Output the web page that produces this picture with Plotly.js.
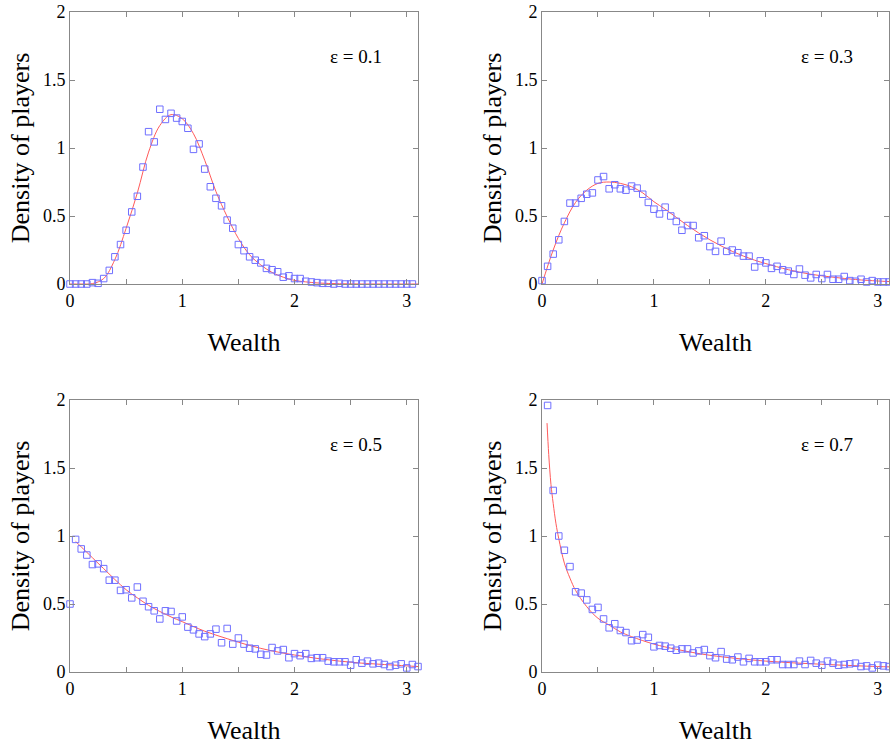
<!DOCTYPE html>
<html>
<head>
<meta charset="utf-8">
<script src="https://cdn.plot.ly/plotly-3.0.1.min.js"></script>
<style>html,body{margin:0;padding:0;background:#fff;}#plot{width:890px;height:746px;}</style>
</head>
<body>
<div id="plot"></div>
<script>
// ---- Data ----
const epsLabels = ["ε = 0.1", "ε = 0.3", "ε = 0.5", "ε = 0.7"];

// simulation points (x step 0.05)
const simX1 = [0,0.05,0.1,0.15,0.2,0.25,0.3,0.35,0.4,0.45,0.5,0.55,0.6,0.65,0.7,0.75,0.8,0.85,0.9,0.95,1.0,1.05,1.1,1.15,1.2,1.25,1.3,1.35,1.4,1.45,1.5,1.55,1.6,1.65,1.7,1.75,1.8,1.85,1.9,1.95,2.0,2.05,2.1,2.15,2.2,2.25,2.3,2.35,2.4,2.45,2.5,2.55,2.6,2.65,2.7,2.75,2.8,2.85,2.9,2.95,3.0,3.05];
const simY1 = [0,0,0,0,0.01,0.005,0.04,0.10,0.20,0.29,0.395,0.53,0.645,0.86,1.12,1.045,1.285,1.21,1.255,1.22,1.195,1.145,0.99,1.03,0.845,0.715,0.63,0.575,0.47,0.41,0.29,0.245,0.20,0.175,0.155,0.115,0.105,0.09,0.05,0.06,0.04,0.04,0.02,0.015,0.01,0.005,0.005,0,0.005,0,0,0,0,0,0,0,0,0,0,0,0,0];

const simX2 = [0,0.05,0.1,0.15,0.2,0.25,0.3,0.35,0.4,0.45,0.5,0.55,0.6,0.65,0.7,0.75,0.8,0.85,0.9,0.95,1.0,1.05,1.1,1.15,1.2,1.25,1.3,1.35,1.4,1.45,1.5,1.55,1.6,1.65,1.7,1.75,1.8,1.85,1.9,1.95,2.0,2.05,2.1,2.15,2.2,2.25,2.3,2.35,2.4,2.45,2.5,2.55,2.6,2.65,2.7,2.75,2.8,2.85,2.9,2.95,3.0,3.05,3.1];
const simY2 = [0.025,0.13,0.22,0.325,0.46,0.595,0.595,0.63,0.66,0.67,0.765,0.79,0.70,0.73,0.70,0.69,0.72,0.705,0.66,0.60,0.55,0.515,0.565,0.50,0.46,0.395,0.43,0.43,0.34,0.355,0.275,0.24,0.315,0.24,0.25,0.23,0.205,0.205,0.125,0.17,0.155,0.115,0.13,0.105,0.095,0.07,0.11,0.065,0.045,0.07,0.04,0.07,0.035,0.035,0.055,0.025,0.02,0.035,0.015,0.025,0.015,0.015,0.015];

const simX3 = [0,0.05,0.1,0.15,0.2,0.25,0.3,0.35,0.4,0.45,0.5,0.55,0.6,0.65,0.7,0.75,0.8,0.85,0.9,0.95,1.0,1.05,1.1,1.15,1.2,1.25,1.3,1.35,1.4,1.45,1.5,1.55,1.6,1.65,1.7,1.75,1.8,1.85,1.9,1.95,2.0,2.05,2.1,2.15,2.2,2.25,2.3,2.35,2.4,2.45,2.5,2.55,2.6,2.65,2.7,2.75,2.8,2.85,2.9,2.95,3.0,3.05,3.1];
const simY3 = [0.50,0.975,0.905,0.86,0.79,0.795,0.76,0.675,0.675,0.60,0.605,0.545,0.625,0.52,0.48,0.45,0.39,0.45,0.445,0.375,0.405,0.33,0.31,0.28,0.26,0.28,0.315,0.215,0.32,0.205,0.25,0.205,0.175,0.17,0.13,0.125,0.18,0.155,0.165,0.105,0.135,0.12,0.135,0.10,0.105,0.105,0.08,0.075,0.075,0.075,0.05,0.09,0.065,0.08,0.06,0.065,0.055,0.04,0.05,0.06,0.03,0.055,0.04];

const simX4 = [0.05,0.1,0.15,0.2,0.25,0.3,0.35,0.4,0.45,0.5,0.55,0.6,0.65,0.7,0.75,0.8,0.85,0.9,0.95,1.0,1.05,1.1,1.15,1.2,1.25,1.3,1.35,1.4,1.45,1.5,1.55,1.6,1.65,1.7,1.75,1.8,1.85,1.9,1.95,2.0,2.05,2.1,2.15,2.2,2.25,2.3,2.35,2.4,2.45,2.5,2.55,2.6,2.65,2.7,2.75,2.8,2.85,2.9,2.95,3.0,3.05,3.1];
const simY4 = [1.96,1.335,1.0,0.895,0.775,0.59,0.58,0.53,0.46,0.475,0.39,0.325,0.355,0.305,0.29,0.23,0.235,0.275,0.255,0.185,0.195,0.19,0.175,0.16,0.17,0.17,0.14,0.155,0.165,0.12,0.105,0.15,0.095,0.09,0.11,0.075,0.10,0.075,0.075,0.075,0.09,0.09,0.055,0.055,0.055,0.08,0.055,0.085,0.065,0.05,0.08,0.065,0.05,0.055,0.06,0.065,0.04,0.045,0.03,0.05,0.045,0.04];

// theory curves
const thX1 = [0,0.1,0.2,0.3,0.4,0.5,0.6,0.7,0.8,0.9,1.0,1.1,1.2,1.3,1.4,1.5,1.6,1.7,1.8,1.9,2.0,2.2,2.4,2.6,2.8,3.0,3.1];
const thY1 = [0,0,0.003,0.04,0.18,0.41,0.67,0.97,1.165,1.245,1.215,1.105,0.91,0.68,0.495,0.335,0.215,0.14,0.085,0.05,0.027,0.008,0.002,0,0,0,0];

const thX2 = [0,0.1,0.2,0.3,0.4,0.5,0.6,0.7,0.8,0.9,1.0,1.1,1.2,1.3,1.4,1.5,1.6,1.7,1.8,1.9,2.0,2.2,2.4,2.6,2.8,3.0,3.1];
const thY2 = [0,0.25,0.45,0.6,0.69,0.74,0.75,0.74,0.715,0.67,0.605,0.55,0.49,0.43,0.375,0.325,0.28,0.24,0.205,0.175,0.15,0.105,0.072,0.05,0.033,0.022,0.018];

const thX3 = [0.05,0.1,0.2,0.3,0.4,0.5,0.6,0.7,0.8,0.9,1.0,1.2,1.4,1.6,1.8,2.0,2.2,2.4,2.6,2.8,3.0,3.1];
const thY3 = [0.96,0.92,0.84,0.76,0.68,0.605,0.545,0.49,0.445,0.405,0.37,0.3,0.245,0.195,0.155,0.125,0.1,0.08,0.065,0.055,0.045,0.04];

const thX4 = [0.045,0.06,0.08,0.1,0.125,0.15,0.2,0.25,0.3,0.4,0.5,0.6,0.7,0.8,1.0,1.2,1.5,2.0,2.5,3.0,3.1];
const thY4 = [1.83,1.6,1.38,1.24,1.09,0.98,0.80,0.69,0.60,0.48,0.395,0.345,0.295,0.26,0.205,0.167,0.123,0.08,0.057,0.04,0.038];

const xTickVals = [0,0.5,1,1.5,2,2.5,3];
const xTickText = ["0","","1","","2","","3"];
const yTickVals = [0,0.5,1,1.5,2];
const yTickText = ["0","0.5","1","1.5","2"];

// ---- Build ----
const sims = [[simX1,simY1],[simX2,simY2],[simX3,simY3],[simX4,simY4]];
const ths = [[thX1,thY1],[thX2,thY2],[thX3,thY3],[thX4,thY4]];
const traces = [];
for (let i = 0; i < 4; i++) {
  const ax = i === 0 ? "" : String(i + 1);
  traces.push({
    x: ths[i][0], y: ths[i][1], type: "scatter", mode: "lines",
    line: {color: "#ff5a5a", width: 1, shape: "spline", smoothing: 1},
    xaxis: "x" + ax, yaxis: "y" + ax, showlegend: false, hoverinfo: "skip"
  });
  traces.push({
    x: sims[i][0], y: sims[i][1], type: "scatter", mode: "markers",
    marker: {symbol: "square-open", size: 6.5, color: "#6f6fff", line: {width: 1}},
    xaxis: "x" + ax, yaxis: "y" + ax, showlegend: false, cliponaxis: false
  });
}

const tickFont = {family: "Liberation Serif, Times New Roman, serif", size: 18, color: "#000"};
const titleFont = {family: "Liberation Serif, Times New Roman, serif", size: 26, color: "#000"};
function xax(domain, anchor) {
  return {domain: domain, anchor: anchor, range: [0, 3.1], tickvals: xTickVals, ticktext: xTickText,
    ticks: "inside", ticklen: 5, tickcolor: "#888", showline: true, linecolor: "#888", linewidth: 1,
    mirror: "ticks", showgrid: false, zeroline: false, tickfont: tickFont,
    title: {text: "Wealth", font: titleFont, standoff: 23}};
}
function yax(domain, anchor) {
  return {domain: domain, anchor: anchor, range: [0, 2], tickvals: yTickVals, ticktext: yTickText,
    ticks: "inside", ticklen: 5, tickcolor: "#888", showline: true, linecolor: "#888", linewidth: 1,
    mirror: "ticks", showgrid: false, zeroline: false, tickfont: tickFont,
    title: {text: "Density of players", font: titleFont, standoff: 5}};
}
const dxL = [70/890, 418/890], dxR = [542/890, 889/890];
const dyT = [(746-284)/746, (746-12)/746], dyB = [(746-672)/746, (746-400)/746];

const annFont = {family: "Liberation Serif, Times New Roman, serif", size: 19, color: "#000"};
const annotations = epsLabels.map((t, i) => {
  const ax = i === 0 ? "" : String(i + 1);
  return {text: t, x: 2.55, y: 1.67, xref: "x" + ax, yref: "y" + ax, showarrow: false, font: annFont};
});

const layout = {
  width: 890, height: 746, margin: {l: 0, r: 0, t: 0, b: 0},
  paper_bgcolor: "#fff", plot_bgcolor: "#fff", showlegend: false,
  xaxis: xax(dxL, "y"), yaxis: yax(dyT, "x"),
  xaxis2: xax(dxR, "y2"), yaxis2: yax(dyT, "x2"),
  xaxis3: xax(dxL, "y3"), yaxis3: yax(dyB, "x3"),
  xaxis4: xax(dxR, "y4"), yaxis4: yax(dyB, "x4"),
  annotations: annotations
};
Plotly.newPlot("plot", traces, layout, {staticPlot: true});
</script>
</body>
</html>
